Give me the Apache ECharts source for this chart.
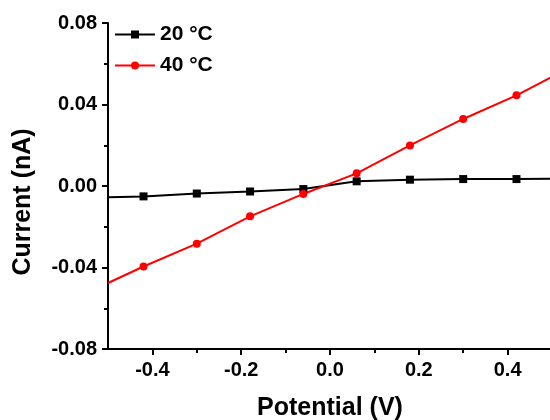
<!DOCTYPE html>
<html>
<head>
<meta charset="utf-8">
<script src="https://cdn.jsdelivr.net/npm/echarts@6/dist/echarts.min.js"></script>
<style>html,body{margin:0;padding:0;background:#fff}#c{width:550px;height:420px}</style>
</head>
<body>
<div id="c"></div>
<script>
var potential = [-0.5, -0.42, -0.30, -0.18, -0.06, 0.06, 0.18, 0.30, 0.42, 0.5];
var current20 = [-0.0055, -0.0051, -0.0037, -0.0027, -0.0015, 0.0023, 0.0031, 0.0034, 0.0034, 0.0036];
var current40 = [-0.0476, -0.0395, -0.0283, -0.0149, -0.0039, 0.0062, 0.0199, 0.0329, 0.0445, 0.0536];
var markerShown = [false, true, true, true, true, true, true, true, true, false];
var seriesNames = ['20 °C', '40 °C'];
var xMajorTicks = [-0.4, -0.2, 0.0, 0.2, 0.4];
var xMinorTicks = [-0.3, -0.1, 0.1, 0.3];

var FONT = '"Liberation Sans", Arial, sans-serif';
function build(ys) {
  return potential.map(function (x, i) {
    var d = { value: [x, ys[i]] };
    if (!markerShown[i]) d.symbol = 'none';
    return d;
  });
}
var chart = echarts.init(document.getElementById('c'), null, { renderer: 'canvas' });
chart.setOption({
  animation: false,
  backgroundColor: '#fff',
  grid: { left: 108, top: 23, width: 444, bottom: 71, containLabel: false, outerBoundsMode: 'none' },
  legend: {
    left: 114, top: 24, orient: 'vertical', padding: 0,
    itemWidth: 40, itemHeight: 10, itemGap: 10,
    textStyle: { fontFamily: FONT, fontWeight: 'bold', fontSize: 21, color: '#000' },
    data: seriesNames
  },
  xAxis: [{
    type: 'value', min: -0.5, max: 0.5,
    name: 'Potential (V)', nameLocation: 'middle', nameGap: 47,
    nameTextStyle: { fontFamily: FONT, fontWeight: 'bold', fontSize: 25, color: '#000' },
    axisLine: { onZero: false, lineStyle: { color: '#000', width: 2 } },
    axisTick: { show: true, customValues: xMajorTicks, length: 6, lineStyle: { color: '#000', width: 2 } },
    axisLabel: { customValues: xMajorTicks, margin: 11, fontFamily: FONT, fontWeight: 'bold', fontSize: 20, color: '#000',
      formatter: function (v) { return v.toFixed(1); } },
    splitLine: { show: false }
  }, {
    type: 'value', min: -0.5, max: 0.5, position: 'bottom',
    axisLine: { show: false, onZero: false },
    axisTick: { show: true, customValues: xMinorTicks, length: 4, lineStyle: { color: '#000', width: 2 } },
    axisLabel: { show: false },
    splitLine: { show: false }
  }],
  yAxis: {
    type: 'value', min: -0.08, max: 0.08, interval: 0.04,
    name: 'Current (nA)', nameLocation: 'middle', nameGap: 72,
    nameTextStyle: { fontFamily: FONT, fontWeight: 'bold', fontSize: 25, color: '#000', padding: [0, 32, 0, 0] },
    axisLine: { onZero: false, lineStyle: { color: '#000', width: 2 } },
    axisTick: { length: 6, lineStyle: { color: '#000', width: 2 } },
    minorTick: { show: true, splitNumber: 2, length: 4, lineStyle: { color: '#000', width: 2 } },
    axisLabel: { margin: 11, fontFamily: FONT, fontWeight: 'bold', fontSize: 20, color: '#000',
      formatter: function (v) { return v.toFixed(2); } },
    splitLine: { show: false }
  },
  series: [{
    name: seriesNames[0], type: 'line', xAxisIndex: 0,
    data: build(current20), symbol: 'rect', symbolSize: 8, showAllSymbol: true,
    lineStyle: { color: '#000', width: 2 }, itemStyle: { color: '#000' }
  }, {
    name: seriesNames[1], type: 'line', xAxisIndex: 0,
    data: build(current40), symbol: 'circle', symbolSize: 8, showAllSymbol: true,
    lineStyle: { color: '#ff0000', width: 2 }, itemStyle: { color: '#ff0000' }
  }]
});
</script>
</body>
</html>
